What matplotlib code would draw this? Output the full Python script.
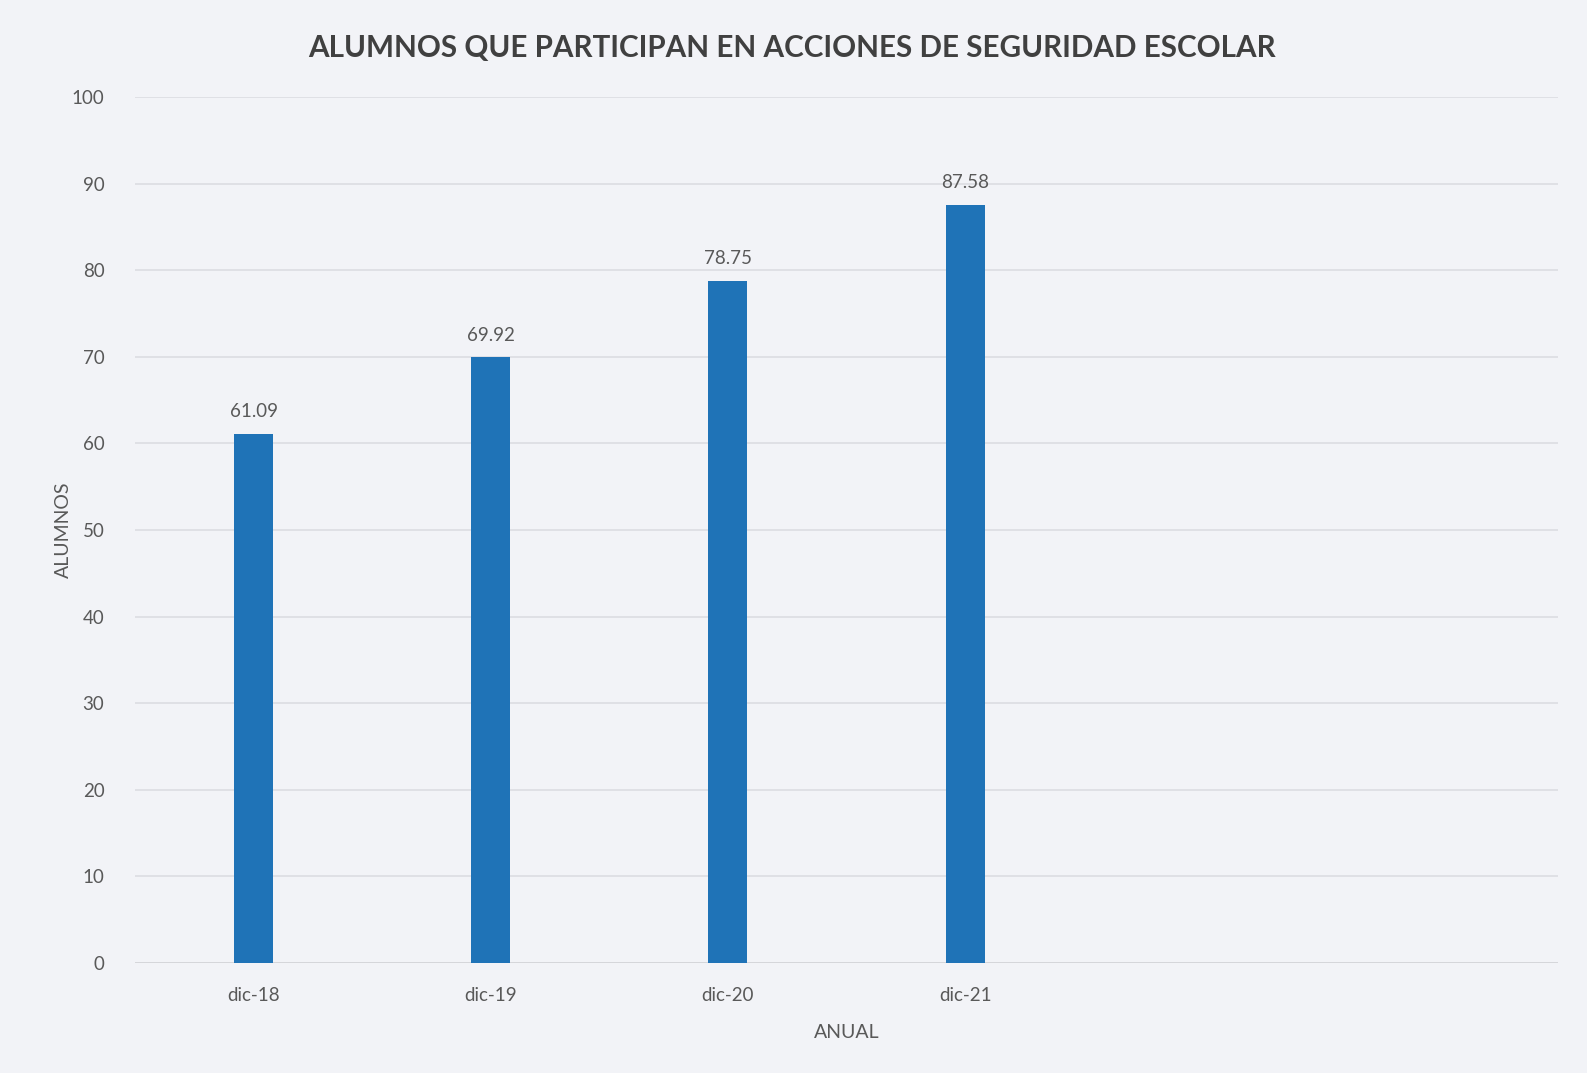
import matplotlib.pyplot as plt

# Datos
categorias = ['dic-18', 'dic-19', 'dic-20', 'dic-21', '', '']
alumnos = [61.09, 69.92, 78.75, 87.58]
y_ticks = [0, 10, 20, 30, 40, 50, 60, 70, 80, 90, 100]

fondo = '#f2f3f7'
azul = '#1f73b7'
gris_texto = '#595959'

plt.rcParams['font.family'] = ['Lato', 'DejaVu Sans']

fig = plt.figure(figsize=(15.87, 10.73), dpi=100, facecolor=fondo)
ax = fig.add_axes([135/1587, 1 - 963/1073, (1558-135)/1587, (963-97)/1073])
ax.set_facecolor(fondo)

x = list(range(len(categorias)))
barras = ax.bar(x[:len(alumnos)], alumnos, width=0.165, color=azul, zorder=3)

for xi, v in zip(x, alumnos):
    ax.annotate(f'{v:.2f}', (xi, v), xytext=(0, 10), textcoords='offset points',
                ha='center', va='bottom', fontsize=13.5, color=gris_texto)

ax.set_xlim(-0.5, len(categorias) - 0.5)
ax.set_ylim(0, 100)
ax.set_yticks(y_ticks)
ax.set_xticks(x)
ax.set_xticklabels(categorias)
ax.tick_params(axis='both', length=0, labelsize=13.5, colors=gris_texto)
ax.tick_params(axis='y', pad=22)
ax.tick_params(axis='x', pad=17)
ax.grid(axis='y', color='#dcdde2', linewidth=1.2, zorder=0)
for s in ax.spines.values():
    s.set_visible(False)
ax.axhline(0, color='#d4d4d8', linewidth=1.2, zorder=2)

ax.set_xlabel('ANUAL', fontsize=14, color=gris_texto, labelpad=15)
ax.set_ylabel('ALUMNOS', fontsize=14, color=gris_texto, labelpad=0)

fig.text(792/1587, 1 - 48/1073, 'ALUMNOS QUE PARTICIPAN EN ACCIONES DE SEGURIDAD ESCOLAR',
         ha='center', va='center', fontsize=21.3, fontweight='bold', color='#404040')

fig.savefig('out.png', dpi=100, facecolor=fondo)
